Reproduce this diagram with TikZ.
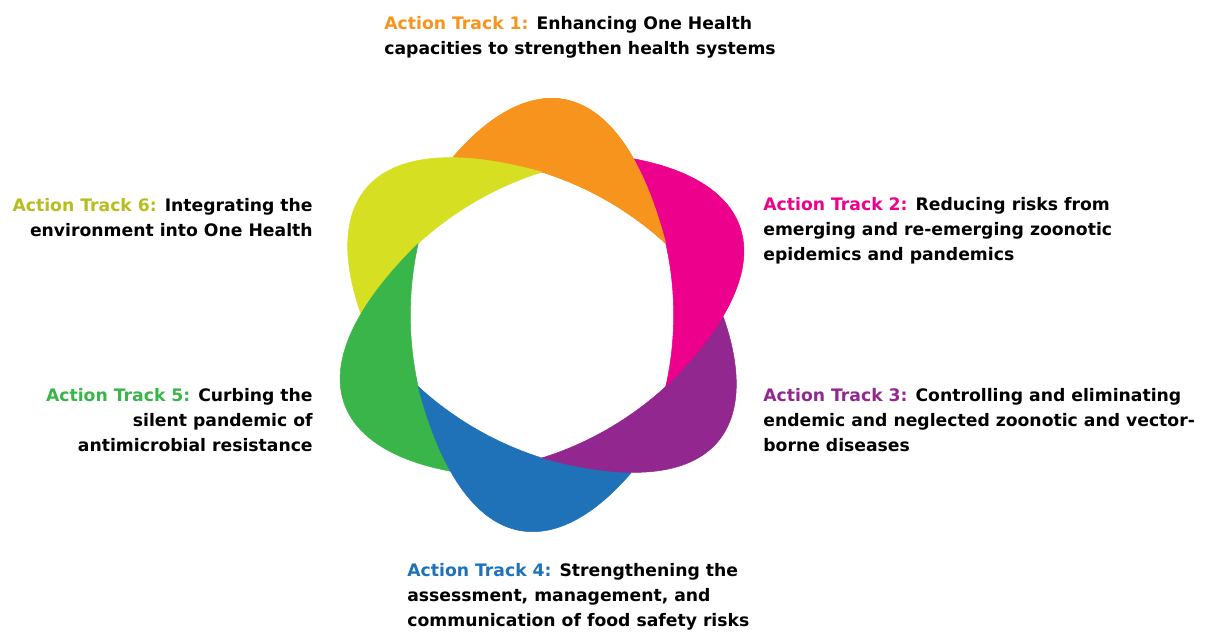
\documentclass[tikz,border=0pt]{standalone}
\usepackage{fontspec}
\setmainfont{DejaVu Sans}
\usepackage{xcolor}
\definecolor{trackorange}{RGB}{247,148,29}
\definecolor{trackmagenta}{RGB}{236,0,140}
\definecolor{trackpurple}{RGB}{146,39,143}
\definecolor{trackblue}{RGB}{31,114,184}
\definecolor{trackgreen}{RGB}{57,181,74}
\definecolor{trackyellow}{RGB}{215,223,35}

\tikzset{
    petalframe/.style={shift={(542,315)}, yscale=-1},
    leaf/.style={fill=#1, draw=#1, line width=0.3pt, line join=round},
    tracklabel/.style={inner sep=0pt, font=\fontsize{9.8}{14.2}\selectfont\bfseries}
}
% one leaf of the ring: tip on the hole corner at 30 degrees,
% tail tucked under the next leaf
\newcommand{\petal}{(123.8,71.5) .. controls (80,240) and (-8,252) .. (-89,158) -- (-55,132) -- (0,143) .. controls (46.0,128.5) and (88.3,104.1) .. (123.8,71.5) -- cycle}

\begin{document}
\begin{tikzpicture}[x=0.02cm, y=-0.02cm]
    \useasboundingbox (0,0) rectangle (1221,632);

    \filldraw[leaf=trackorange, petalframe, rotate=0] \petal;
    \filldraw[leaf=trackyellow, petalframe, rotate=-60] \petal;
    \filldraw[leaf=trackgreen, petalframe, rotate=-120] \petal;
    \filldraw[leaf=trackblue, petalframe, rotate=-180] \petal;
    \filldraw[leaf=trackpurple, petalframe, rotate=-240] \petal;
    \filldraw[leaf=trackmagenta, petalframe, rotate=-300] \petal;

    % orange tip goes back over the magenta leaf
    \begin{scope}[petalframe]
        \clip (0,0) rectangle (260,260);
        \filldraw[leaf=trackorange] \petal;
    \end{scope}

    \node[tracklabel, anchor=north west, align=left] (at1) at (384,16)
        {{\color{trackorange}Action Track 1:} Enhancing One Health\\capacities to strengthen health systems};
    \node[tracklabel, anchor=north west, align=left] (at2) at (763,197)
        {{\color{trackmagenta}Action Track 2:} Reducing risks from\\emerging and re-emerging zoonotic\\epidemics and pandemics};
    \node[tracklabel, anchor=north west, align=left] (at3) at (763,388)
        {{\color{trackpurple}Action Track 3:} Controlling and eliminating\\endemic and neglected zoonotic and vector-\\borne diseases};
    \node[tracklabel, anchor=north west, align=left] (at4) at (407,563)
        {{\color{trackblue}Action Track 4:} Strengthening the\\assessment, management, and\\communication of food safety risks};
    \node[tracklabel, anchor=north east, align=right] (at5) at (313,388)
        {{\color{trackgreen}Action Track 5:} Curbing the\\silent pandemic of\\antimicrobial resistance};
    \node[tracklabel, anchor=north east, align=right] (at6) at (313,198)
        {{\color{trackyellow!85!black}Action Track 6:} Integrating the\\environment into One Health};

\end{tikzpicture}
\end{document}
